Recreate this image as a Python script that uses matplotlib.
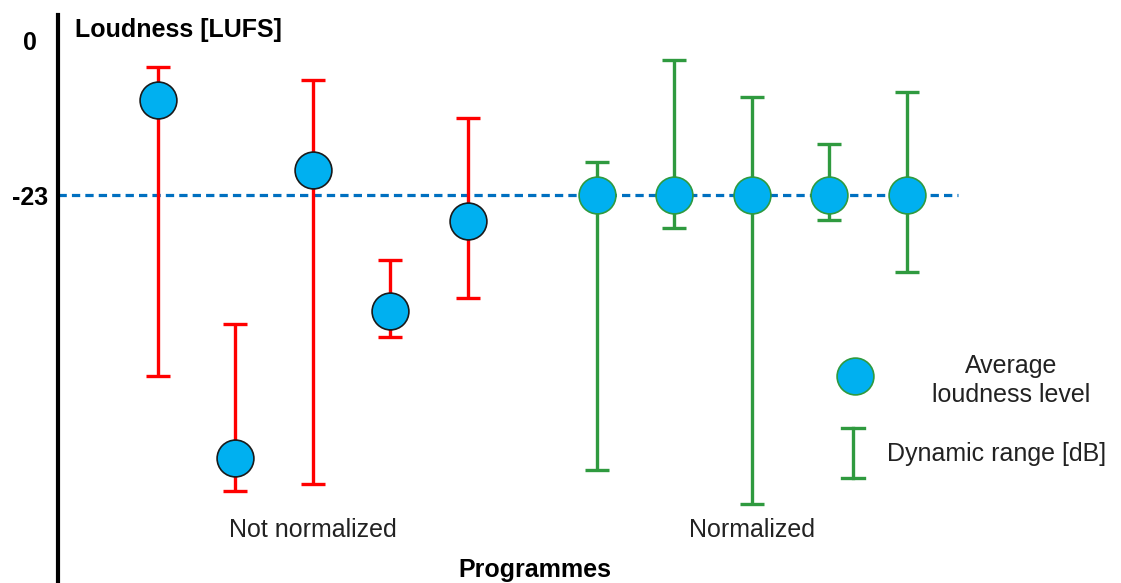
import numpy as np
import matplotlib.pyplot as plt
from matplotlib.lines import Line2D

plt.rcParams['font.family'] = ['Liberation Sans', 'DejaVu Sans']

# Loudness per programme [LUFS] and dynamic range ends
not_norm_mean = [-8.9, -62.0, -19.3, -40.2, -26.9]
not_norm_top = [-4.0, -42.1, -5.9, -32.6, -11.6]
not_norm_bottom = [-49.9, -66.9, -65.9, -44.1, -38.3]

norm_mean = [-23, -23, -23, -23, -23]
norm_top = [-18.1, -3.0, -8.5, -15.4, -7.7]
norm_bottom = [-63.8, -27.9, -68.9, -26.7, -34.4]

target = -23
ytick_vals = [0, -23]
ytick_labels = ['0', '-23']

red = '#FF0000'
green = '#2F9A3F'
dot = '#00B0F0'
dash_blue = '#0070C0'

fig = plt.figure(figsize=(11.21, 5.83), dpi=100)
ax = fig.add_axes([58 / 1121, 0, 1 - 58 / 1121, 1])

# x positions of the programmes (gap between groups)
x1 = np.arange(1, len(not_norm_mean) + 1)
x2 = np.arange(len(norm_mean)) + x1[-1] + 1.67

ax.hlines(target, -0.29, x2[-1] + 0.67, colors=dash_blue, linestyles=(0, (2.6, 1.6)),
          linewidth=2.3, zorder=1)

def draw_group(xs, mean, top, bottom, color, edge):
    mean = np.array(mean)
    lower = mean - np.array(bottom)
    upper = np.array(top) - mean
    ax.errorbar(xs, mean, yerr=[lower, upper], fmt='none', ecolor=color,
                elinewidth=2.4, capsize=8.5, capthick=2.4, zorder=2)
    ax.plot(xs, mean, 'o', ms=26.5, mfc=dot, mec=edge, mew=1.2, ls='none', zorder=3)

draw_group(x1, not_norm_mean, not_norm_top, not_norm_bottom, red, '#1a1a1a')
draw_group(x2, norm_mean, norm_top, norm_bottom, green, green)

ax.set_xlim(-0.292, 13.44)
ax.set_ylim(-80.57, 5.94)

for s in ['top', 'right', 'bottom']:
    ax.spines[s].set_visible(False)
ax.spines['left'].set_linewidth(3)
ax.spines['left'].set_bounds(-80.57, 3.7)
ax.set_xticks([])
ax.set_yticks(ytick_vals)
ax.set_yticklabels(ytick_labels, fontsize=18, fontweight='bold')
ax.tick_params(axis='y', length=0, pad=20)
for lab in ax.get_yticklabels():
    lab.set_ha('center')

ax.text(0.016, 0.9485, 'Loudness [LUFS]', transform=ax.transAxes, fontsize=18,
        fontweight='bold', ha='left', va='center')
ax.text(0.4487, 0.0223, 'Programmes', transform=ax.transAxes, fontsize=18,
        fontweight='bold', ha='center', va='center')
ax.text(x1.mean(), 0.091, 'Not normalized', transform=ax.get_xaxis_transform(),
        fontsize=18, color='#222222', ha='center', va='center')
ax.text(x2.mean(), 0.091, 'Normalized', transform=ax.get_xaxis_transform(),
        fontsize=18, color='#222222', ha='center', va='center')

# legend drawn by hand
ax.plot([0.7498], [0.355], 'o', ms=26.5, mfc=dot, mec=green, mew=1.2,
        transform=ax.transAxes, clip_on=False)
ax.text(0.897, 0.347, 'Average\nloudness level', transform=ax.transAxes, fontsize=18,
        color='#222222', ha='center', va='center', linespacing=1.25)
ax.add_line(Line2D([0.748, 0.748], [0.180, 0.266], color=green, lw=2.4,
                   transform=ax.transAxes))
for yy in [0.180, 0.266]:
    ax.add_line(Line2D([0.7375, 0.7585], [yy, yy], color=green, lw=2.4,
                       transform=ax.transAxes))
ax.text(0.780, 0.221, 'Dynamic range [dB]', transform=ax.transAxes, fontsize=18,
        color='#222222', ha='left', va='center')

fig.savefig('out.png', dpi=100)
